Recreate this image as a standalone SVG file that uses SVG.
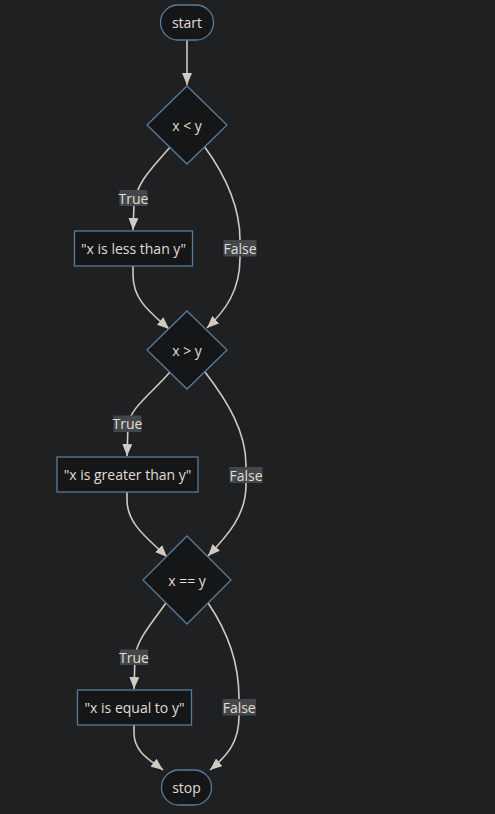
<svg xmlns="http://www.w3.org/2000/svg" width="495" height="814" viewBox="0 0 495 814">
<style>
.node{fill:#151618;stroke:#587c9b;stroke-width:1.3}
.t{font-family:"Open Sans","DejaVu Sans",sans-serif;font-size:14px;fill:#e2ddd4;text-anchor:middle;dominant-baseline:central}
.e{fill:none;stroke:#cfcac2;stroke-width:1.6}
.lb{fill:#43474a}
.lt{font-family:"Open Sans","DejaVu Sans",sans-serif;font-size:14px;fill:#e2ddd4;text-anchor:middle;dominant-baseline:central}
</style>
<defs>
<marker id="ah" markerUnits="userSpaceOnUse" viewBox="0 0 12 10" refX="12" refY="5" markerWidth="12" markerHeight="10" orient="auto">
<path d="M0,0 L12,5 L0,10 z" fill="#cfcac2"/>
</marker>
</defs>
<rect width="495" height="814" fill="#1f2022"/>
<g id="edges">
<path class="e" marker-end="url(#ah)" d="M187,40 L187,85"/>
<path class="e" marker-end="url(#ah)" d="M171,146 C154,166 136,182 134,205 L133,230"/>
<path class="e" marker-end="url(#ah)" d="M204,146 C226,176 240,206 240,240 L240,258 C240,290 226,310 207,328"/>
<path class="e" marker-end="url(#ah)" d="M133,266 L133,275 C133,300 150,312 169,329"/>
<path class="e" marker-end="url(#ah)" d="M170,372 C152,393 130,408 128,425 L127,456"/>
<path class="e" marker-end="url(#ah)" d="M205,372 C228,402 246,432 246,465 L246,485 C246,515 228,535 208,556"/>
<path class="e" marker-end="url(#ah)" d="M127,492 L127,500 C127,525 150,540 167,557"/>
<path class="e" marker-end="url(#ah)" d="M166,603 C150,625 137,640 135,657 L134,689"/>
<path class="e" marker-end="url(#ah)" d="M208,603 C228,632 239,662 239,698 L239,716 C239,742 228,755 210,770"/>
<path class="e" marker-end="url(#ah)" d="M134,725 L134,733 C134,752 150,760 163,770"/>
<rect class="lb" x="119.5" y="190" width="28" height="16"/>
<text class="lt" x="133.5" y="198">True</text>
<rect class="lb" x="223.5" y="240" width="33" height="16.5"/>
<text class="lt" x="240" y="248.2">False</text>
<rect class="lb" x="113.5" y="415.5" width="28" height="16.5"/>
<text class="lt" x="127.5" y="423.7">True</text>
<rect class="lb" x="229.5" y="467" width="33" height="16"/>
<text class="lt" x="246" y="475">False</text>
<rect class="lb" x="120" y="649.5" width="28" height="15.5"/>
<text class="lt" x="134" y="657.2">True</text>
<rect class="lb" x="222.5" y="699" width="33.5" height="16.5"/>
<text class="lt" x="239.2" y="707.2">False</text>
</g>
<g id="start">
<rect class="node" x="160.5" y="5" width="53" height="35" rx="17.5"/>
<text class="t" x="187" y="22.5">start</text>
</g>
<g id="cond1">
<polygon class="node" points="187,86 227,125 187,164 147,125"/>
<text class="t" x="187" y="125">x &lt; y</text>
</g>
<g id="out1">
<rect class="node" x="74.5" y="231" width="118" height="35"/>
<text class="t" x="133.5" y="248.5">"x is less than y"</text>
</g>
<g id="cond2">
<polygon class="node" points="187,311 227,350 187,389 147,350"/>
<text class="t" x="187" y="350.5">x &gt; y</text>
</g>
<g id="out2">
<rect class="node" x="57" y="457" width="141" height="35"/>
<text class="t" x="127.5" y="474.5">"x is greater than y"</text>
</g>
<g id="cond3">
<polygon class="node" points="187,536 231,580 187,624 143,580"/>
<text class="t" x="187" y="580.5">x == y</text>
</g>
<g id="out3">
<rect class="node" x="77.5" y="690" width="114" height="35"/>
<text class="t" x="134.5" y="707.5">"x is equal to y"</text>
</g>
<g id="stop">
<rect class="node" x="161.5" y="770" width="50" height="35" rx="17.5"/>
<text class="t" x="186.5" y="787.5">stop</text>
</g>
</svg>
